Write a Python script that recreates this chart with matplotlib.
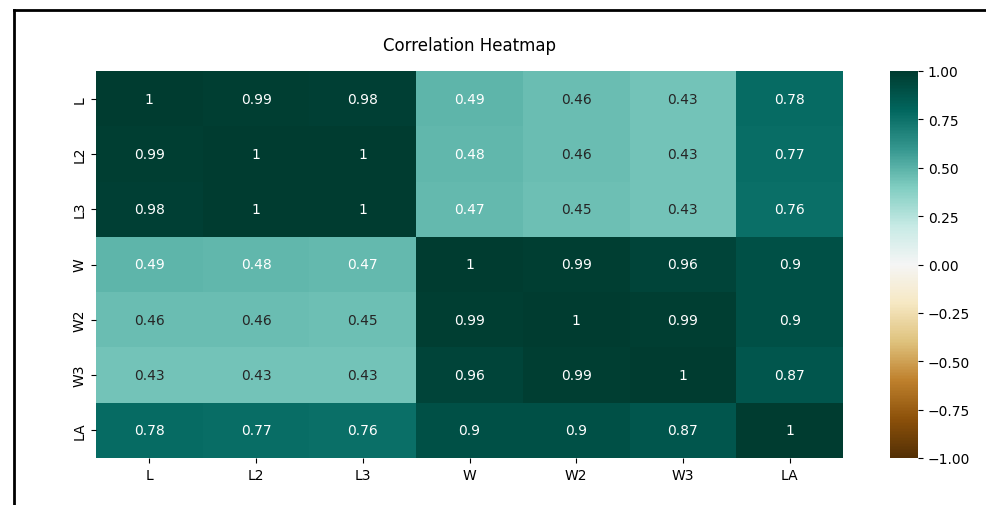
import numpy as np
import pandas as pd
import seaborn as sns
from matplotlib import pyplot as plt
from matplotlib.lines import Line2D

# correlation matrix of the shell measurements
LABELS = ["L", "L2", "L3", "W", "W2", "W3", "LA"]
ROW_L = [1.00, 0.99, 0.98, 0.49, 0.46, 0.43, 0.78]
ROW_L2 = [0.99, 1.00, 1.00, 0.48, 0.46, 0.43, 0.77]
ROW_L3 = [0.98, 1.00, 1.00, 0.47, 0.45, 0.43, 0.76]
ROW_W = [0.49, 0.48, 0.47, 1.00, 0.99, 0.96, 0.90]
ROW_W2 = [0.46, 0.46, 0.45, 0.99, 1.00, 0.99, 0.90]
ROW_W3 = [0.43, 0.43, 0.43, 0.96, 0.99, 1.00, 0.87]
ROW_LA = [0.78, 0.77, 0.76, 0.90, 0.90, 0.87, 1.00]

corr = pd.DataFrame([ROW_L, ROW_L2, ROW_L3, ROW_W, ROW_W2, ROW_W3, ROW_LA],
                    index=LABELS, columns=LABELS)

fig = plt.figure(figsize=(9.86, 5.06), dpi=100)
W, H = 986, 506
ax = fig.add_axes([96 / W, 1 - 459 / H, (843 - 96) / W, (459 - 72) / H])
cax = fig.add_axes([890 / W, 1 - 459 / H, (918 - 890) / W, (459 - 72) / H])

sns.heatmap(corr, annot=True, cmap="BrBG", vmin=-1, vmax=1,
            ax=ax, cbar_ax=cax, annot_kws={"fontsize": 10})
ax.set_title("Correlation Heatmap", fontsize=12, pad=15)
ax.tick_params(labelsize=10)
ax.set_yticklabels(LABELS, rotation=90, va="center")
cax.tick_params(labelsize=10)

# black frame around the figure
fig.add_artist(Line2D([14 / W, 14 / W], [0, 1 - 11 / H], color="black", lw=2, transform=fig.transFigure))
fig.add_artist(Line2D([14 / W, 1], [1 - 11 / H, 1 - 11 / H], color="black", lw=2, transform=fig.transFigure))

fig.savefig("out.png", dpi=100)
plt.close(fig)
